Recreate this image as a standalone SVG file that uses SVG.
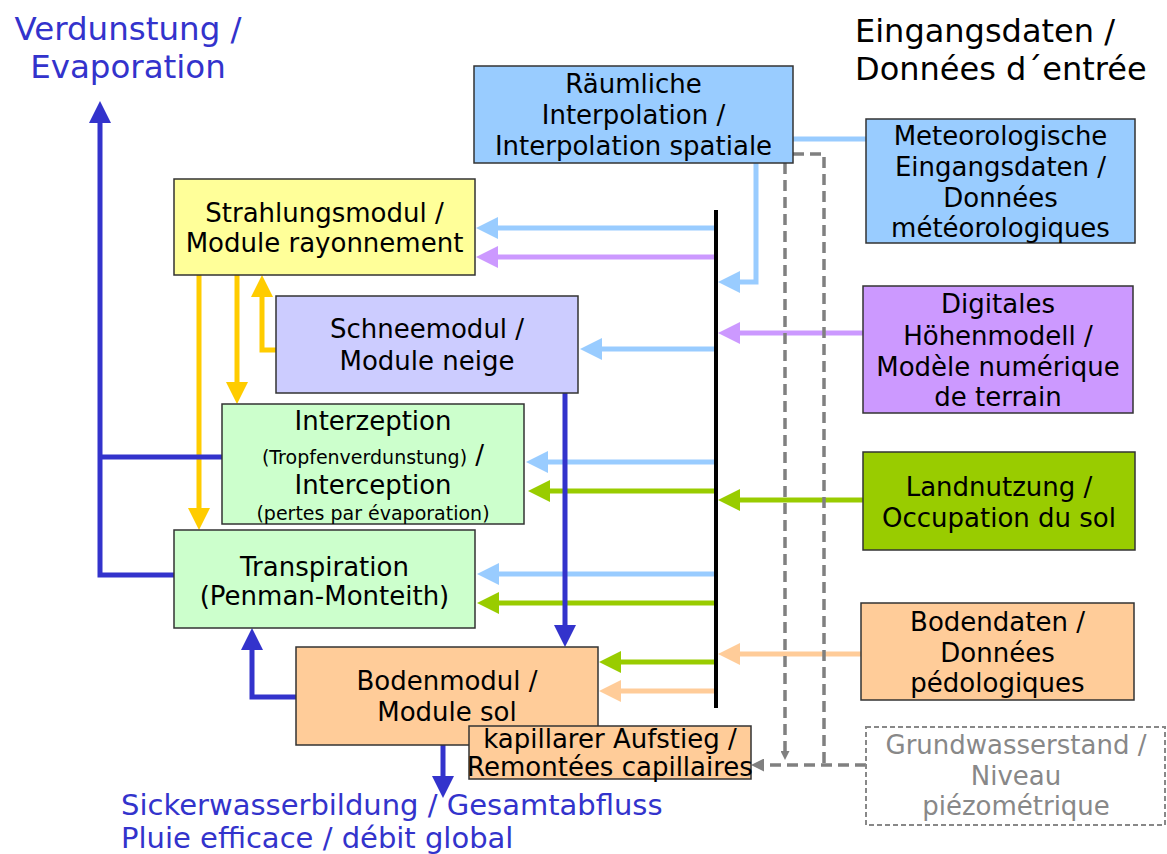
<svg xmlns="http://www.w3.org/2000/svg" width="1167" height="854" viewBox="0 0 1167 854">
<defs>
<style>
text{font-family:"DejaVu Sans","Liberation Sans",sans-serif;}
.t{font-size:26px;fill:#000;text-anchor:middle;}
.s{font-size:19px;}
.box{stroke:#333;stroke-width:1.5;}
.c{fill:none;stroke-width:5;}
.lb{stroke:#99CCFF;}
.pu{stroke:#CC99FF;}
.gr{stroke:#99CC00;}
.pe{stroke:#FFCC99;}
.ye{stroke:#FFCC00;}
.db{stroke:#3333CC;}
.dash{fill:none;stroke:#808080;stroke-width:3.5;stroke-dasharray:11 6;}
.blue{fill:#3333CC;}
.gt{fill:#888;}
</style>
<marker id="aLB" viewBox="0 0 22 22" markerWidth="22" markerHeight="22" refX="12" refY="11" orient="auto" markerUnits="userSpaceOnUse"><path d="M0,0 L22,11 L0,22 z" fill="#99CCFF"/></marker>
<marker id="aPU" viewBox="0 0 22 22" markerWidth="22" markerHeight="22" refX="12" refY="11" orient="auto" markerUnits="userSpaceOnUse"><path d="M0,0 L22,11 L0,22 z" fill="#CC99FF"/></marker>
<marker id="aGR" viewBox="0 0 22 22" markerWidth="22" markerHeight="22" refX="12" refY="11" orient="auto" markerUnits="userSpaceOnUse"><path d="M0,0 L22,11 L0,22 z" fill="#99CC00"/></marker>
<marker id="aPE" viewBox="0 0 22 22" markerWidth="22" markerHeight="22" refX="12" refY="11" orient="auto" markerUnits="userSpaceOnUse"><path d="M0,0 L22,11 L0,22 z" fill="#FFCC99"/></marker>
<marker id="aYE" viewBox="0 0 22 22" markerWidth="22" markerHeight="22" refX="12" refY="11" orient="auto" markerUnits="userSpaceOnUse"><path d="M0,0 L22,11 L0,22 z" fill="#FFCC00"/></marker>
<marker id="aDB" viewBox="0 0 22 22" markerWidth="22" markerHeight="22" refX="12" refY="11" orient="auto" markerUnits="userSpaceOnUse"><path d="M0,0 L22,11 L0,22 z" fill="#3333CC"/></marker>
<marker id="aGS" viewBox="0 0 13 13" markerWidth="13" markerHeight="13" refX="6" refY="6.5" orient="auto" markerUnits="userSpaceOnUse"><path d="M0,0 L13,6.5 L0,13 z" fill="#808080" stroke="none"/></marker>
<marker id="aGS2" viewBox="0 0 9 9" markerWidth="9" markerHeight="9" refX="4" refY="4.5" orient="auto" markerUnits="userSpaceOnUse"><path d="M0,0 L9,4.5 L0,9 z" fill="#808080" stroke="none"/></marker>
</defs>
<rect width="1167" height="854" fill="#fff"/>

<g id="connectors">
<line x1="716" y1="210" x2="716" y2="708" stroke="#000" stroke-width="4"/>
<path class="c lb" d="M793,139 H866" stroke-width="4"/>
<path class="c lb" d="M756,163 V282 H728" stroke-width="4" marker-end="url(#aLB)"/>
<path class="c pu" d="M863,333 H728" marker-end="url(#aPU)"/>
<path class="c gr" d="M863,500 H728" marker-end="url(#aGR)"/>
<path class="c pe" d="M861,654 H728" marker-end="url(#aPE)"/>
<path class="c lb" d="M714,228 H486" marker-end="url(#aLB)"/>
<path class="c pu" d="M714,257 H486" marker-end="url(#aPU)"/>
<path class="c lb" d="M714,349 H590" marker-end="url(#aLB)"/>
<path class="c lb" d="M714,462 H536" marker-end="url(#aLB)"/>
<path class="c gr" d="M714,491 H538" marker-end="url(#aGR)"/>
<path class="c lb" d="M714,574 H487" marker-end="url(#aLB)"/>
<path class="c gr" d="M714,603 H487" marker-end="url(#aGR)"/>
<path class="c gr" d="M714,662 H609" marker-end="url(#aGR)"/>
<path class="c pe" d="M714,691 H609" marker-end="url(#aPE)"/>
<path class="c ye" d="M199,275 V520" marker-end="url(#aYE)"/>
<path class="c ye" d="M237,275 V394" marker-end="url(#aYE)"/>
<path class="c ye" d="M276,350 H262 V285" stroke-width="4" marker-end="url(#aYE)"/>
<path class="c db" d="M565,393 V637" marker-end="url(#aDB)"/>
<path class="c db" d="M222,457 H100"/>
<path class="c db" d="M174,575 H100 V111" marker-end="url(#aDB)"/>
<path class="c db" d="M296,697 H252 V638" marker-end="url(#aDB)"/>
<path class="c db" d="M443,745 V788" marker-end="url(#aDB)"/>
<path class="dash" d="M793,154 H824 V765"/>
<path class="dash" d="M866,765 H758" marker-end="url(#aGS)"/>
<path class="dash" d="M785,163 V755" marker-end="url(#aGS2)"/>
</g>

<g id="title-evap">
<text class="blue" font-size="32.5" text-anchor="middle" x="128" y="40">Verdunstung /</text>
<text class="blue" font-size="32.5" text-anchor="middle" x="128" y="78">Evaporation</text>
</g>
<g id="title-input">
<text font-size="32" x="855" y="42">Eingangsdaten /</text>
<text font-size="32" x="855" y="80">Données d´entrée</text>
</g>
<g id="title-runoff">
<text class="blue" font-size="29" x="121" y="815">Sickerwasserbildung / Gesamtabfluss</text>
<text class="blue" font-size="29" x="121" y="848">Pluie efficace / débit global</text>
</g>

<g id="interpolation">
<rect class="box" x="474" y="66" width="319" height="97" fill="#99CCFF"/>
<text class="t" x="633.5" y="93">Räumliche</text>
<text class="t" x="633.5" y="124">Interpolation /</text>
<text class="t" x="633.5" y="155">Interpolation spatiale</text>
</g>
<g id="strahlung">
<rect class="box" x="174" y="179" width="301" height="96" fill="#FFFF99"/>
<text class="t" x="324.5" y="222">Strahlungsmodul /</text>
<text class="t" x="324.5" y="252">Module rayonnement</text>
</g>
<g id="schnee">
<rect class="box" x="276" y="296" width="302" height="97" fill="#CCCCFF"/>
<text class="t" x="427" y="338">Schneemodul /</text>
<text class="t" x="427" y="370">Module neige</text>
</g>
<g id="interzeption">
<rect class="box" x="222" y="404" width="302" height="120" fill="#CCFFCC"/>
<text class="t" x="373" y="430">Interzeption</text>
<text class="t" x="373" y="464"><tspan class="s">(Tropfenverdunstung)</tspan> /</text>
<text class="t" x="373" y="494">Interception</text>
<text class="t s" x="373" y="520">(pertes par évaporation)</text>
</g>
<g id="transpiration">
<rect class="box" x="174" y="530" width="301" height="98" fill="#CCFFCC"/>
<text class="t" font-size="29" x="324.5" y="576">Transpiration</text>
<text class="t" x="324.5" y="605">(Penman-Monteith)</text>
</g>
<g id="boden">
<rect class="box" x="296" y="647" width="302" height="98" fill="#FFCC99"/>
<text class="t" x="447" y="690">Bodenmodul /</text>
<text class="t" x="447" y="721">Module sol</text>
</g>
<g id="kapillar">
<rect class="box" x="469" y="726" width="282" height="53" fill="#FFCC99"/>
<text class="t" font-size="20" x="610" y="748">kapillarer Aufstieg /</text>
<text class="t" font-size="20" x="610" y="776">Remontées capillaires</text>
</g>
<g id="meteo">
<rect class="box" x="866" y="119" width="269" height="124" fill="#99CCFF"/>
<text class="t" x="1000.5" y="145">Meteorologische</text>
<text class="t" x="1000.5" y="176">Eingangsdaten /</text>
<text class="t" x="1000.5" y="207">Données</text>
<text class="t" x="1000.5" y="237">météorologiques</text>
</g>
<g id="dhm">
<rect class="box" x="863" y="286" width="270" height="127" fill="#CC99FF"/>
<text class="t" x="998" y="313">Digitales</text>
<text class="t" x="998" y="345">Höhenmodell /</text>
<text class="t" x="998" y="376">Modèle numérique</text>
<text class="t" x="998" y="406">de terrain</text>
</g>
<g id="landnutzung">
<rect class="box" x="863" y="452" width="272" height="98" fill="#99CC00"/>
<text class="t" x="999" y="496">Landnutzung /</text>
<text class="t" x="999" y="527">Occupation du sol</text>
</g>
<g id="bodendaten">
<rect class="box" x="861" y="603" width="273" height="97" fill="#FFCC99"/>
<text class="t" x="997.5" y="631">Bodendaten /</text>
<text class="t" x="997.5" y="662">Données</text>
<text class="t" x="997.5" y="692">pédologiques</text>
</g>
<g id="grundwasser">
<rect x="866" y="727" width="299" height="98" fill="#fff" stroke="#888" stroke-width="2" stroke-dasharray="5 3"/>
<text class="t gt" style="fill:#888" x="1016" y="754">Grundwasserstand /</text>
<text class="t gt" style="fill:#888" x="1016" y="785">Niveau</text>
<text class="t gt" style="fill:#888" x="1016" y="815">piézométrique</text>
</g>
</svg>
